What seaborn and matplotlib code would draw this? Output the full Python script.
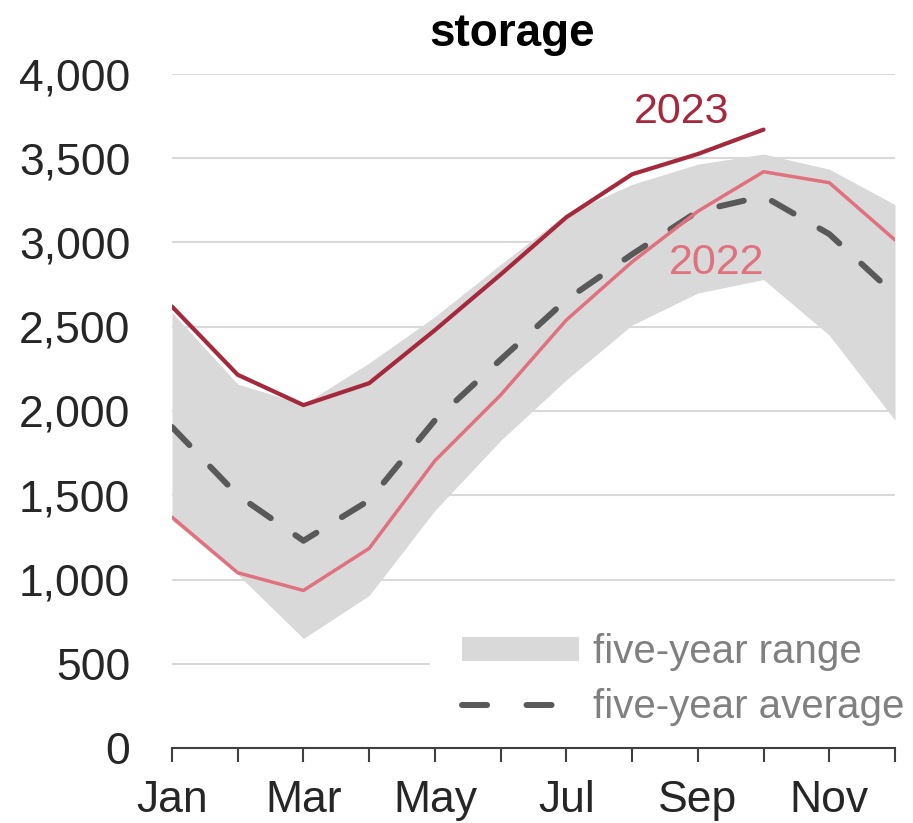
import matplotlib
matplotlib.use("Agg")
import matplotlib.pyplot as plt
import seaborn as sns
import pandas as pd
from matplotlib.patches import Patch
from matplotlib.lines import Line2D

months = ["Jan", "Feb", "Mar", "Apr", "May", "Jun", "Jul", "Aug", "Sep", "Oct", "Nov", "Dec"]
tick_labels = ["Jan", "", "Mar", "", "May", "", "Jul", "", "Sep", "", "Nov", ""]
s2023 = [2620, 2215, 2035, 2165, 2480, 2810, 3150, 3405, 3525, 3670]
s2022 = [1370, 1040, 935, 1185, 1705, 2095, 2540, 2885, 3185, 3420, 3355, 3015]
avg5 = [1905, 1500, 1230, 1470, 1945, 2305, 2660, 2930, 3185, 3275, 3050, 2690]
range_hi = [2585, 2160, 2040, 2285, 2560, 2870, 3170, 3345, 3465, 3525, 3435, 3225]
range_lo = [1350, 1030, 650, 905, 1410, 1825, 2185, 2510, 2700, 2780, 2450, 1945]

sns.set_style("white")
plt.rcParams['font.family'] = ['Liberation Sans', 'DejaVu Sans']

C23 = "#a5293d"
C22 = "#e0717f"
CAVG = "#595959"
CFILL = "#d9d9d9"

x = list(range(len(months)))
df22 = pd.DataFrame({"m": x, "v": s2022})
df23 = pd.DataFrame({"m": x[:len(s2023)], "v": s2023})
dfa = pd.DataFrame({"m": x, "v": avg5})

fig = plt.figure(figsize=(9.13, 8.23), dpi=100)
ax = fig.add_axes([172 / 913, 75 / 823, 723 / 913, 674 / 823])

ax.fill_between(x, range_lo, range_hi, color=CFILL, lw=0, zorder=1)
sns.lineplot(data=dfa, x="m", y="v", ax=ax, color=CAVG, lw=4.3, zorder=3)
la = ax.lines[-1]
la.set_dashes([4.2, 5.0])
la.set_dash_capstyle("round")
sns.lineplot(data=df22, x="m", y="v", ax=ax, color=C22, lw=2.5, zorder=4)
sns.lineplot(data=df23, x="m", y="v", ax=ax, color=C23, lw=3.0, zorder=5)

ax.set_xlim(0, 11)
ax.set_ylim(0, 4000)
ax.set_yticks(range(0, 4001, 500))
ax.set_yticklabels([f"{v:,}" for v in range(0, 4001, 500)])
ax.set_xticks(x)
ax.set_xticklabels(tick_labels)
ax.yaxis.grid(True, color="#d9d9d9", lw=1.5)
ax.xaxis.grid(False)
ax.set_axisbelow(True)
ax.xaxis.set_zorder(2.6)
for s in ["top", "right", "left"]:
    ax.spines[s].set_visible(False)
ax.spines["bottom"].set_color("#404040")
ax.spines["bottom"].set_linewidth(1.5)
ax.tick_params(axis="x", bottom=True, direction="out", length=10, width=1.5, color="#404040",
               labelsize=32, labelcolor="#262626", pad=13)
ax.tick_params(axis="y", left=False, length=0, labelsize=32, labelcolor="#262626", pad=30)
ax.set_xlabel("")
ax.set_ylabel("")
fig.text(512 / 913, 1 - 34 / 823, "storage", fontsize=33, fontweight="bold",
         color="black", ha="center", va="center")

ax.text(7.75, 3775, "2023", color=C23, fontsize=31, ha="center", va="center")
ax.text(8.28, 2878, "2022", color=C22, fontsize=31, ha="center", va="center")

handles = [Patch(facecolor=CFILL, edgecolor="none", label="five-year range"),
           Line2D([0], [0], color=CAVG, lw=4.3, dashes=[4.2, 6.6], dash_capstyle="round",
                  label="five-year average")]
leg = ax.legend(handles=handles, loc="upper left",
                bbox_to_anchor=(430 / 913, 1 - 601 / 823), bbox_transform=fig.transFigure,
                frameon=True, fancybox=False, facecolor="white", edgecolor="none", framealpha=1,
                fontsize=29, handlelength=2.9, handleheight=0.55, handletextpad=0.35,
                labelspacing=0.42, borderpad=0.8, borderaxespad=0)
for t in leg.get_texts():
    t.set_color("#808080")
leg.set_zorder(2)

fig.savefig("out.png", dpi=100)
